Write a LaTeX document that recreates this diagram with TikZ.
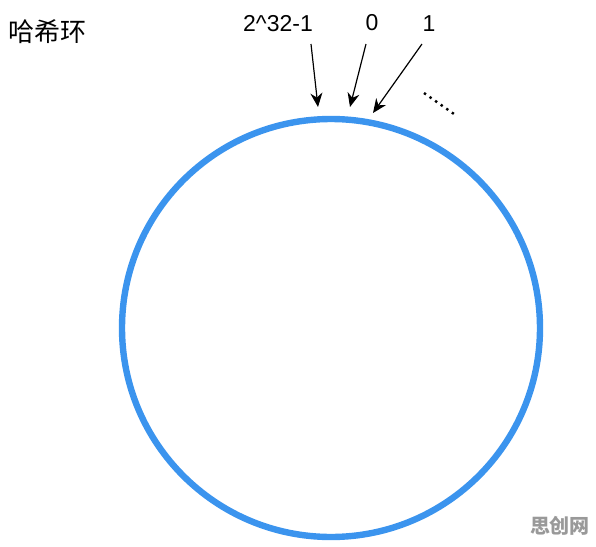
\documentclass[tikz,border=0pt]{standalone}
\usepackage{fontspec}
\setmainfont{Liberation Sans}
\newfontfamily\cjk{Noto Sans CJK SC}
\usetikzlibrary{arrows.meta}
\definecolor{ringblue}{HTML}{3B94EE}

\begin{document}
\begin{tikzpicture}[x=0.5pt,y=-0.5pt]
      \tikzstyle label=[font=\fontsize{11.5}{13}\selectfont, inner sep=0pt]
      \tikzstyle pointer=[line width=0.6pt, black, -{Stealth[length=7pt,width=6pt]}]
      \useasboundingbox (0,0) rectangle (596,547);
      \draw [color=ringblue, line width=3.2pt] (331,328) circle [radius=209];
      \node [font=\cjk\fontsize{13}{15}\selectfont, inner sep=0pt] (title) at (48,32) {哈希环};
      \node [label] (last) at (278,24) {2\^{}32-1};
      \node [label] (zero) at (372,23) {0};
      \node [label] (one) at (429,24) {1};
      \coordinate (slast) at (311,44);
      \coordinate (szero) at (366,44);
      \coordinate (sone) at (422,44);
      \coordinate (plast) at (318,107);
      \coordinate (pzero) at (350,107);
      \coordinate (pone) at (373,113);
      \draw [pointer] (slast) -- (plast);
      \draw [pointer] (szero) -- (pzero);
      \draw [pointer] (sone) -- (pone);
      \draw [black, line width=1.2pt, dash pattern=on 1.2pt off 2.2pt] (424,93) -- (454,114);
      \node [font=\cjk\bfseries\fontsize{10}{12}\selectfont, text=black!40, inner sep=0pt] (mark) at (560,526) {思创网};
\end{tikzpicture}
\end{document}
